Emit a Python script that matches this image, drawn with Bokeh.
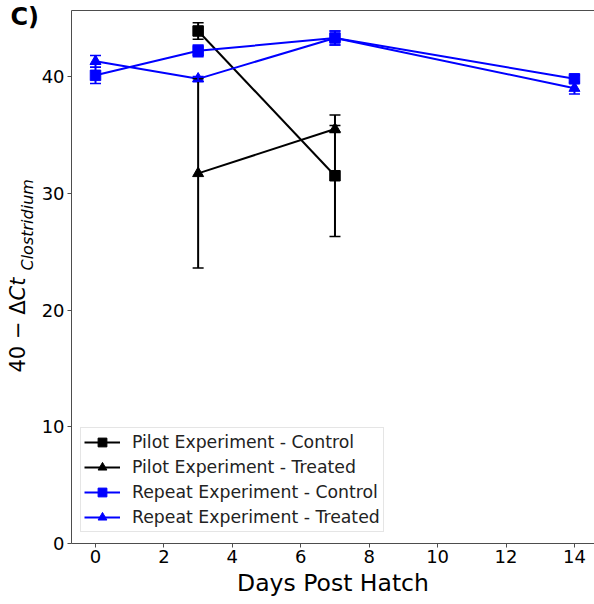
import math
from bokeh.plotting import figure
from bokeh.models import (ColumnDataSource, Whisker, TeeHead, Legend, LegendItem,
                          Label, LinearAxis, FixedTicker, Range1d)
from bokeh.embed import file_html
from bokeh.resources import INLINE

# ---- data ----
days_pilot = [3, 7]
pilot_control = [43.9, 31.5]
pilot_control_err = [0.7, 5.2]
pilot_treated = [31.7, 35.5]
pilot_treated_err = [8.1, 0.3]

days_repeat = [0, 3, 7, 14]
repeat_control = [40.1, 42.2, 43.3, 39.8]
repeat_control_err = [0.7, 0.5, 0.6, 0.3]
repeat_treated = [41.3, 39.8, 43.3, 39.0]
repeat_treated_err = [0.5, 0.2, 0.6, 0.5]

x_ticks = [0, 2, 4, 6, 8, 10, 12, 14]
y_ticks = [0, 10, 20, 30, 40]

# visible axes box (data units)
X_LO, X_HI = -0.70, 14.59
Y_LO, Y_HI = 0.0, 45.67

FONT = "DejaVu Sans"
AXC = "#4d4d4d"
W, H = 594, 604

# the frame covers the whole canvas; axes are drawn at fixed locations
p = figure(width=W, height=H, output_backend="svg", toolbar_location=None,
           x_range=Range1d(-2.777, 14.586), y_range=Range1d(-5.225, 46.51),
           min_border_left=0, min_border_right=0, min_border_top=0, min_border_bottom=0)
p.outline_line_color = None
p.grid.visible = False
p.background_fill_color = "white"
p.border_fill_color = "white"

for ax, ticks in ((p.xaxis[0], x_ticks), (p.yaxis[0], y_ticks)):
    ax.ticker = FixedTicker(ticks=ticks)
    ax.minor_tick_line_color = None
    ax.major_tick_in = 0
    ax.major_tick_out = 4
    ax.axis_line_color = AXC
    ax.major_tick_line_color = AXC
    ax.major_label_text_font = FONT
    ax.major_label_text_font_size = "18px"
    ax.major_label_text_color = "black"
    ax.major_label_standoff = 3

p.xaxis[0].fixed_location = Y_LO
p.xaxis[0].bounds = (X_LO, X_HI)
p.yaxis[0].fixed_location = X_LO
p.yaxis[0].bounds = (Y_LO, Y_HI)

p.xaxis.axis_label = "Days Post Hatch"
p.xaxis.axis_label_text_font = FONT
p.xaxis.axis_label_text_font_size = "23.5px"
p.xaxis.axis_label_text_font_style = "normal"
p.xaxis.axis_label_text_color = "black"
p.xaxis.axis_label_standoff = 2

top = LinearAxis(ticker=FixedTicker(ticks=[]), major_tick_out=0, major_tick_in=0,
                 minor_tick_line_color=None, axis_line_color=AXC,
                 major_label_text_font_size="0px",
                 fixed_location=Y_HI, bounds=(X_LO, X_HI))
p.add_layout(top, "above")

def series(xs, ys, errs, color, marker, size):
    src = ColumnDataSource(dict(x=xs, y=ys,
                                lo=[a - b for a, b in zip(ys, errs)],
                                hi=[a + b for a, b in zip(ys, errs)]))
    w = Whisker(source=src, base="x", upper="hi", lower="lo",
                line_color=color, line_width=2, level="glyph",
                upper_head=TeeHead(size=11, line_color=color, line_width=1.5),
                lower_head=TeeHead(size=11, line_color=color, line_width=1.5))
    p.add_layout(w)
    ln = p.line("x", "y", source=src, line_color=color, line_width=2)
    sc = p.scatter("x", "y", source=src, marker=marker, size=size,
                   fill_color=color, line_color=color)
    return [ln, sc]

r1 = series(days_pilot, pilot_control, pilot_control_err, "black", "square", 10.5)
r2 = series(days_pilot, pilot_treated, pilot_treated_err, "black", "triangle", 11)
r3 = series(days_repeat, repeat_control, repeat_control_err, "blue", "square", 10.5)
r4 = series(days_repeat, repeat_treated, repeat_treated_err, "blue", "triangle", 11)

legend = Legend(items=[
    LegendItem(label="Pilot Experiment - Control", renderers=r1),
    LegendItem(label="Pilot Experiment - Treated", renderers=r2),
    LegendItem(label="Repeat Experiment - Control", renderers=r3),
    LegendItem(label="Repeat Experiment - Treated", renderers=r4),
], location=(80, 72))
legend.label_text_font = FONT
legend.label_text_font_size = "17.3px"
legend.label_text_color = "#222222"
legend.glyph_width = 36
legend.glyph_height = 22
legend.label_height = 22
legend.spacing = 3
legend.padding = 3
legend.margin = 0
legend.label_standoff = 12
legend.border_line_color = "#cccccc"
legend.background_fill_alpha = 0.8
p.add_layout(legend)

# y-axis label pieces and panel tag (screen px from the canvas' bottom-left)
ang = math.pi / 2
for lb in [
    Label(x=17, y=232, x_units="screen", y_units="screen", text="40 − Δ",
          angle=ang, text_font=FONT, text_font_size="21px",
          text_align="left", text_baseline="alphabetic", text_color="black"),
    Label(x=17, y=304, x_units="screen", y_units="screen", text="Ct",
          angle=ang, text_font=FONT, text_font_size="21px", text_font_style="italic",
          text_align="left", text_baseline="alphabetic", text_color="black"),
    Label(x=27, y=334, x_units="screen", y_units="screen", text="Clostridium",
          angle=ang, text_font=FONT, text_font_size="16px", text_font_style="italic",
          text_align="left", text_baseline="alphabetic", text_color="black"),
    Label(x=10, y=588, x_units="screen", y_units="screen", text="C)",
          text_font=FONT, text_font_size="24px", text_font_style="bold",
          text_align="left", text_baseline="alphabetic", text_color="black"),
]:
    p.add_layout(lb)

open("out.html", "w").write(file_html(p, INLINE))
